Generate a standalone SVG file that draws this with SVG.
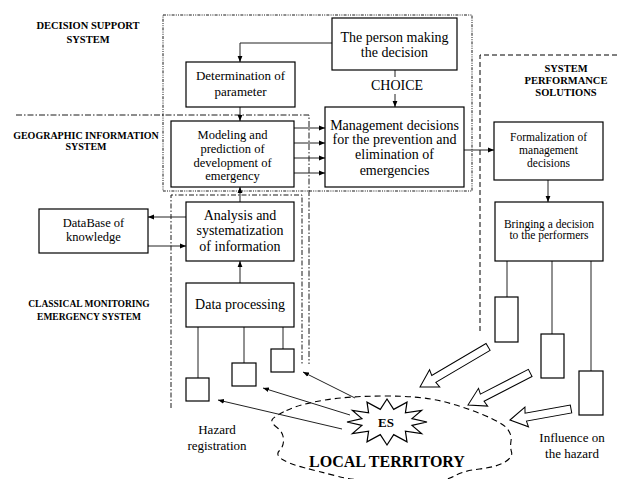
<svg xmlns="http://www.w3.org/2000/svg" width="617" height="479" viewBox="0 0 617 479">
<style>
.box{fill:#fff;stroke:#000;stroke-width:1.2}
text{font-family:'Liberation Serif','Times New Roman','DejaVu Serif',serif;text-anchor:middle;fill:#000}
.b{font-weight:bold}
.c{stroke:#222;stroke-width:1;fill:none}
.dss{fill:none;stroke:#000;stroke-width:0.9;stroke-dasharray:3 1.2 1 1.2 1 1.2}
.gis{fill:none;stroke:#000;stroke-width:0.9;stroke-dasharray:6 2 1.5 2}
.cms{fill:none;stroke:#000;stroke-width:0.9;stroke-dasharray:5 2 1.5 2}
.sps{fill:none;stroke:#000;stroke-width:1;stroke-dasharray:5 3}
.cloud{fill:none;stroke:#000;stroke-width:1.1;stroke-dasharray:6 4}
.blk{fill:#fff;stroke:#000;stroke-width:1}
</style>
<defs>
<marker id="ah" viewBox="0 0 10 10" refX="10" refY="5" markerWidth="6" markerHeight="6" orient="auto" markerUnits="userSpaceOnUse"><path d="M0,1 L10,5 L0,9 z" fill="#000"/></marker>
</defs>
<rect width="617" height="479" fill="#fff"/>

<g id="regions">
<rect class="dss" x="163" y="15" width="309" height="176"/>
<path class="gis" d="M16,115 H309 V364"/>
<path class="cms" d="M171,408 V195 H302 V364"/>
<path class="sps" d="M617,55 H480 V333"/>
</g>

<g id="region-labels" font-weight="bold">
<text font-size="10.5" x="88" y="29">DECISION SUPPORT</text>
<text font-size="10.5" x="88" y="43">SYSTEM</text>
<text font-size="10" x="86" y="139">GEOGRAPHIC INFORMATION</text>
<text font-size="10" x="86" y="150">SYSTEM</text>
<text font-size="9.5" x="89" y="306.5">CLASSICAL MONITORING</text>
<text font-size="9.5" x="89" y="319.5">EMERGENCY SYSTEM</text>
<text font-size="10.5" x="566" y="72">SYSTEM</text>
<text font-size="10.5" x="566" y="84">PERFORMANCE</text>
<text font-size="10.5" x="566" y="96">SOLUTIONS</text>
</g>

<g id="territory">
<path class="cloud" d="M286.5,410.5 Q300,404 325,400 Q350,396 385,396 Q420,396 441,401 Q462,406 482.5,414.5 Q503,423 507.5,429 Q512,435 511,441 Q510,447 511.5,452 Q513,457 505,462 Q497,467 479.5,469 Q462,471 453.5,476.5 Q445,482 402.5,482 Q360,482 338.5,476.5 Q317,471 303.5,467.5 Q290,464 282.5,459.5 Q275,455 279.5,450.5 Q284,446 283.5,439 Q283,432 277,427.5 Q271,423 272,420 Q273,417 286.5,410.5 Z"/>
<text class="b" font-size="16" x="387" y="467">LOCAL TERRITORY</text>
</g>

<g id="connectors">
<path class="c" d="M332,43 H240 V62" marker-end="url(#ah)"/>
<path class="c" d="M240,107 V121" marker-end="url(#ah)"/>
<path class="c" d="M240,202 V187" marker-end="url(#ah)"/>
<path class="c" d="M240,283 V261" marker-end="url(#ah)"/>
<path class="c" d="M294,128 H325" marker-end="url(#ah)"/>
<path class="c" d="M294,143 H325" marker-end="url(#ah)"/>
<path class="c" d="M294,158 H325" marker-end="url(#ah)"/>
<path class="c" d="M294,173 H325" marker-end="url(#ah)"/>
<path class="c" d="M464,150 H494" marker-end="url(#ah)"/>
<path class="c" d="M548,180 V202" marker-end="url(#ah)"/>
<path class="c" d="M186,217 H148" marker-end="url(#ah)"/>
<path class="c" d="M148,246 H186" marker-end="url(#ah)"/>
<path class="c" d="M395,70 V77"/>
<path class="c" d="M395,94 V107" marker-end="url(#ah)"/>
<path class="c" d="M198,327 V378 M244,327 V363 M283,327 V349"/>
<path class="c" d="M507,261 V297 M552,261 V334 M591,261 V371"/>
<path class="c" d="M355,398 L303,372" marker-end="url(#ah)"/>
<path class="c" d="M350,415 L263,388" marker-end="url(#ah)"/>
<path class="c" d="M342,429 L218,400" marker-end="url(#ah)"/>
<polygon class="blk" transform="translate(420,387) rotate(-30.5)" points="0,0 17,-10 16,-4 79,-4 79,4 16,4 17,10"/>
<polygon class="blk" transform="translate(468,405) rotate(-27.3)" points="0,0 17,-10 16,-4 70,-4 70,4 16,4 17,10"/>
<polygon class="blk" transform="translate(510,420) rotate(-10.2)" points="0,0 17,-10 16,-4 62,-4 62,4 16,4 17,10"/>
<text font-size="14" x="397" y="90">CHOICE</text>
</g>

<g id="person">
<rect class="box" x="332" y="18" width="125" height="52"/>
<text font-size="14" x="394.5" y="42">The person making</text>
<text font-size="14" x="394.5" y="57">the decision</text>
</g>

<g id="determination">
<rect class="box" x="186" y="62" width="109" height="45"/>
<text font-size="13" x="240.5" y="80">Determination of</text>
<text font-size="13" x="240.5" y="96">parameter</text>
</g>

<g id="modeling">
<rect class="box" x="171" y="121" width="123" height="66"/>
<text font-size="12.5" x="232.5" y="139">Modeling and</text>
<text font-size="12.5" x="232.5" y="153">prediction of</text>
<text font-size="12.5" x="232.5" y="167">development of</text>
<text font-size="12.5" x="232.5" y="180">emergency</text>
</g>

<g id="management">
<rect class="box" x="325" y="107" width="139" height="80"/>
<text font-size="14" x="394.5" y="130">Management decisions</text>
<text font-size="14" x="394.5" y="144">for the prevention and</text>
<text font-size="14" x="394.5" y="159">elimination of</text>
<text font-size="14" x="394.5" y="175">emergencies</text>
</g>

<g id="formalization">
<rect class="box" x="494" y="122" width="109" height="58"/>
<text font-size="11.5" x="548.5" y="141">Formalization of</text>
<text font-size="11.5" x="548.5" y="154">management</text>
<text font-size="11.5" x="548.5" y="167">decisions</text>
</g>

<g id="bringing">
<rect class="box" x="495" y="202" width="108" height="59"/>
<text font-size="11.5" x="549" y="228">Bringing a decision</text>
<text font-size="11.5" x="549" y="239">to the performers</text>
</g>

<g id="database">
<rect class="box" x="39" y="209" width="109" height="44"/>
<text font-size="12.5" x="93.5" y="227">DataBase of</text>
<text font-size="12.5" x="93.5" y="241">knowledge</text>
</g>

<g id="analysis">
<rect class="box" x="186" y="202" width="108" height="59"/>
<text font-size="14" x="240" y="220">Analysis and</text>
<text font-size="14" x="240" y="235">systematization</text>
<text font-size="14" x="240" y="251">of information</text>
</g>

<g id="dataprocessing">
<rect class="box" x="186" y="283" width="108" height="44"/>
<text font-size="14" x="240" y="309">Data processing</text>
</g>

<g id="sensors">
<rect class="box" x="271" y="349" width="23" height="23"/>
<rect class="box" x="232" y="363" width="24" height="23"/>
<rect class="box" x="186" y="378" width="23" height="23"/>
</g>

<g id="performers">
<rect class="box" x="495" y="297" width="23" height="45"/>
<rect class="box" x="541" y="334" width="23" height="44"/>
<rect class="box" x="579" y="371" width="24" height="44"/>
</g>

<g id="es">
<polygon class="box" points="427,422 412,418.6 421.6,410.5 405.4,412.8 407,402.1 393.7,409.4 387,399 380.3,409.4 367,402.1 368.6,412.8 352.4,410.5 361.9,418.6 347,422 361.9,425.4 352.4,433.5 368.6,431.2 367,441.9 380.3,434.6 387,445 393.7,434.6 407,441.9 405.4,431.2 421.6,433.5 412,425.4"/>
<text class="b" font-size="13" x="386" y="427">ES</text>
</g>

<g id="notes">
<text font-size="13" x="217" y="434">Hazard</text>
<text font-size="13" x="217" y="450">registration</text>
<text font-size="13" x="572" y="442">Influence on</text>
<text font-size="13" x="572" y="458">the hazard</text>
</g>
</svg>
